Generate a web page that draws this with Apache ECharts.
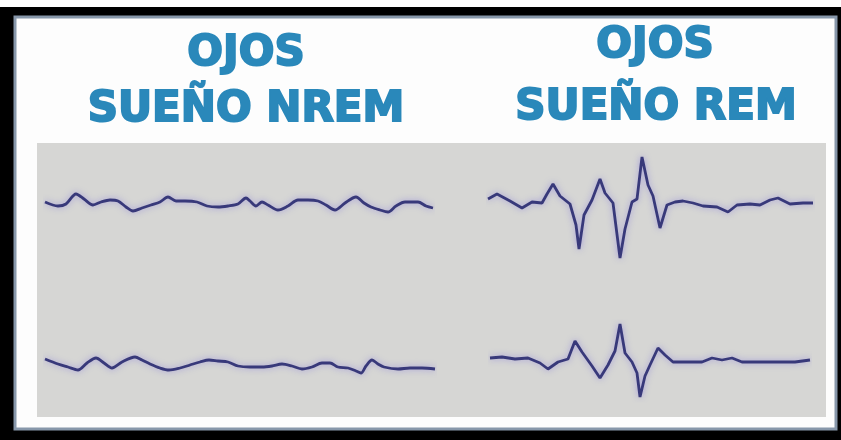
<!DOCTYPE html>
<html>
<head>
<meta charset="utf-8">
<script src="https://cdn.jsdelivr.net/npm/echarts@6/dist/echarts.min.js"></script>
<style>
  html, body { margin: 0; padding: 0; background: #ffffff; }
  #chart { width: 841px; height: 440px; }
</style>
</head>
<body>
<div id="chart"></div>
<script>
// panel titles
const titleNrem = ["OJOS", "SUEÑO NREM"];
const titleRem = ["OJOS", "SUEÑO REM"];

// NREM, upper trace (time offset, amplitude)
const nremTopT = [0, 13, 21, 31, 39, 48, 56, 65, 73, 81, 88, 97, 106, 115, 123, 131, 140, 152, 162, 173, 183, 193, 201, 205, 211, 217, 223, 233, 243, 253, 263, 273, 281, 290, 300, 311, 319, 326, 335, 343, 351, 360, 373, 381, 388];
const nremTopAmp = [2, -2, 0, 10, 5, -1, 2, 4, 3, -3, -7, -4, -1, 2, 7, 3, 3, 2, -2, -3, -2, 0, 6, 3, -2, 2, -1, -6, -2, 4, 4, 3, -1, -6, 1, 7, 1, -3, -6, -8, -2, 2, 2, -2, -4];

// REM, upper trace
const remTopT = [0, 9, 22, 34, 44, 54, 59, 65, 72, 82, 88, 91, 96, 104, 112, 117, 125, 132, 137, 144, 149, 154, 160, 165, 172, 179, 187, 195, 205, 215, 229, 240, 249, 262, 272, 282, 290, 302, 315, 325];
const remTopAmp = [4, 9, 2, -5, 1, 0, 9, 19, 7, -1, -22, -46, -12, 3, 24, 10, 0, -55, -26, 1, 4, 46, 18, 7, -25, -2, 1, 2, 0, -3, -4, -9, -2, -1, -2, 3, 5, -1, 0, 0];

// NREM, lower trace
const nremBotT = [0, 13, 23, 33, 42, 51, 59, 67, 77, 90, 97, 105, 115, 124, 135, 145, 155, 164, 173, 183, 193, 205, 217, 227, 237, 247, 257, 267, 277, 285, 293, 303, 311, 316, 321, 327, 333, 339, 353, 365, 377, 390];
const nremBotAmp = [6, 1, -2, -5, 2, 7, 2, -3, 3, 8, 5, 1, -3, -5, -3, 0, 3, 5, 4, 3, -1, -2, -2, -1, 1, -1, -4, -2, 2, 2, -2, -3, -6, -8, -1, 5, 1, -2, -4, -3, -3, -4];

// REM, lower trace
const remBotT = [0, 12, 25, 38, 50, 58, 68, 78, 85, 92, 102, 110, 118, 125, 130, 135, 142, 147, 150, 155, 160, 168, 175, 183, 198, 212, 222, 232, 242, 252, 272, 288, 305, 320];
const remBotAmp = [3, 4, 2, 3, -2, -8, -1, 2, 20, 9, -5, -17, -4, 10, 37, 8, -1, -12, -36, -15, -4, 13, 6, -1, -1, -1, 3, 1, 3, -1, -1, -1, -1, 1];

const TRACE_COLOR = "#38397a";
const TITLE_COLOR = "#2a88ba";
const TITLE_FONT = "bold 42px 'DejaVu Sans'";

const pairs = (t, a) => t.map((v, i) => [v, a[i]]);

const traces = [
  { t: nremTopT, amp: nremTopAmp, grid: { left: 45, top: 184, width: 388, height: 40 }, range: 20, smooth: 0.3 },
  { t: remTopT, amp: remTopAmp, grid: { left: 488, top: 143, width: 325, height: 120 }, range: 60, smooth: false },
  { t: nremBotT, amp: nremBotAmp, grid: { left: 45, top: 345, width: 390, height: 40 }, range: 20, smooth: 0.3 },
  { t: remBotT, amp: remBotAmp, grid: { left: 490, top: 321, width: 320, height: 80 }, range: 40, smooth: false },
];

const titleText = (text, x, y) => ({
  type: "text",
  x: x,
  y: y,
  style: {
    text: text,
    font: TITLE_FONT,
    fill: TITLE_COLOR,
    stroke: TITLE_COLOR,
    lineWidth: 2,
    textAlign: "center",
    textVerticalAlign: "middle",
  },
});

const chart = echarts.init(document.getElementById("chart"));

chart.setOption({
  animation: false,
  backgroundColor: "#ffffff",
  graphic: [
    { type: "rect", z: -10, silent: true, shape: { x: 0, y: 7, width: 841, height: 433 }, style: { fill: "#000000" } },
    { type: "rect", z: -9, silent: true, shape: { x: 15, y: 17, width: 821, height: 412 }, style: { fill: "#fdfdfd", stroke: "#8797aa", lineWidth: 3 } },
    { type: "rect", z: -8, silent: true, shape: { x: 37, y: 143, width: 789, height: 274 }, style: { fill: "#d6d6d4" } },
    titleText(titleNrem[0], 246, 54),
    titleText(titleNrem[1], 246, 110),
    titleText(titleRem[0], 655, 46),
    titleText(titleRem[1], 656, 108),
  ],
  grid: traces.map((tr) => tr.grid),
  xAxis: traces.map((tr, i) => ({
    type: "value",
    gridIndex: i,
    show: false,
    min: 0,
    max: tr.t[tr.t.length - 1],
  })),
  yAxis: traces.map((tr, i) => ({
    type: "value",
    gridIndex: i,
    show: false,
    min: -tr.range,
    max: tr.range,
  })),
  series: traces.map((tr, i) => ({
    type: "line",
    xAxisIndex: i,
    yAxisIndex: i,
    data: pairs(tr.t, tr.amp),
    showSymbol: false,
    smooth: tr.smooth,
    lineStyle: {
      color: TRACE_COLOR,
      width: 2.8,
      shadowColor: "rgba(130, 120, 220, 0.65)",
      shadowBlur: 6,
    },
  })),
});
</script>
</body>
</html>
